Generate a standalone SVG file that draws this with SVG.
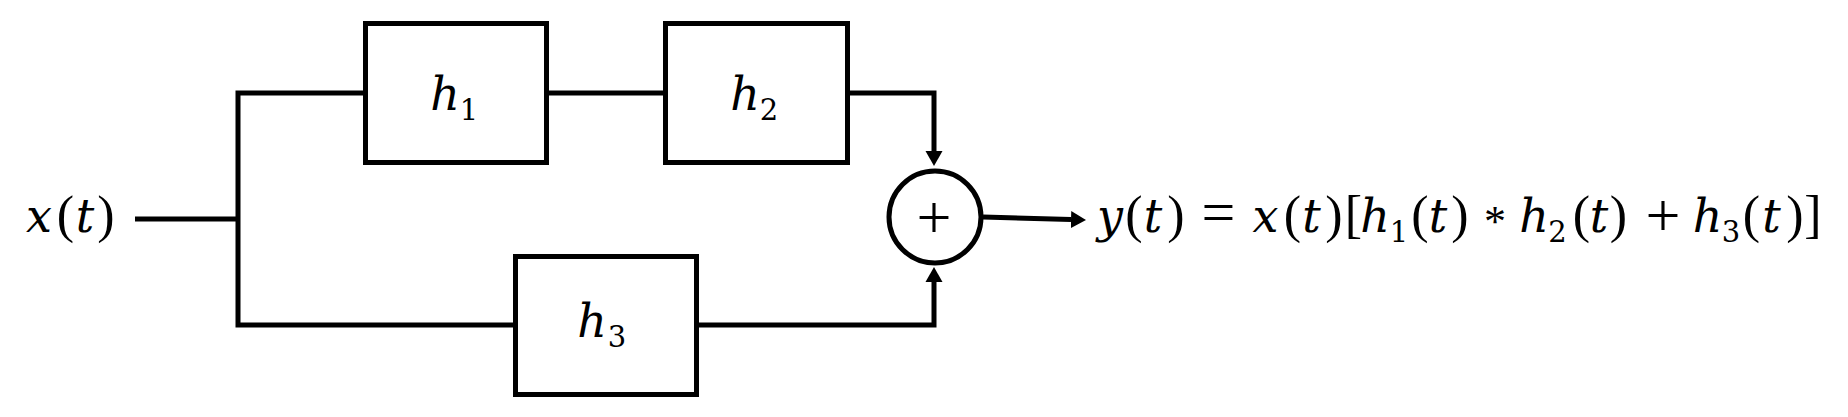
<svg xmlns="http://www.w3.org/2000/svg" width="1848" height="417" viewBox="0 0 1848 417">
<style>
.box{fill:#fff;stroke:#000;stroke-width:5}
.wire{fill:none;stroke:#000;stroke-width:5;stroke-linejoin:miter;stroke-linecap:butt}
.m{font-family:"DejaVu Serif","Liberation Serif",serif;font-size:46px;text-anchor:middle;fill:#000}
.i{font-style:italic}
.s{font-size:29px;font-style:normal}
.p{font-size:52px;font-family:"Liberation Serif",serif}
.op{font-family:"Liberation Serif",serif}
</style>
<defs>
<marker id="arr" markerUnits="userSpaceOnUse" markerWidth="16" markerHeight="20" viewBox="0 -10 16 20" refX="0" refY="0" orient="auto">
<path d="M0,-8.5 L15,0 L0,8.5 Z" fill="#000"/>
</marker>
</defs>
<rect width="1848" height="417" fill="#fff"/>
<g id="connectors">
<path class="wire" d="M135,219 H238"/>
<path class="wire" d="M363,93 H238 V325 H513"/>
<path class="wire" d="M549,93 H663"/>
<path class="wire" d="M850,93 H934 V151" marker-end="url(#arr)"/>
<path class="wire" d="M699,325 H934 V282" marker-end="url(#arr)"/>
<path class="wire" d="M983,217 L1071,219.6" marker-end="url(#arr)"/>
</g>
<g id="node-h1">
<rect class="box" x="365.5" y="23.5" width="181" height="139"/>
<text class="m"><tspan class="i" x="445" y="110">h</tspan><tspan class="s" x="469" y="120">1</tspan></text>
</g>
<g id="node-h2">
<rect class="box" x="665.5" y="23.5" width="182" height="139"/>
<text class="m"><tspan class="i" x="745" y="110">h</tspan><tspan class="s" x="769" y="120">2</tspan></text>
</g>
<g id="node-h3">
<rect class="box" x="515.5" y="256.5" width="181" height="138"/>
<text class="m"><tspan class="i" x="592" y="337">h</tspan><tspan class="s" x="617" y="347">3</tspan></text>
</g>
<g id="node-sum">
<circle cx="935" cy="217" r="46" fill="#fff" stroke="#000" stroke-width="5"/>
<text class="m op" x="934" y="237.5" style="font-size:62px">+</text>
</g>
<g id="label-x">
<text class="m"><tspan class="i" x="39" y="232">x</tspan><tspan class="p" x="65.5" y="232">(</tspan><tspan class="i" x="85" y="232">t</tspan><tspan class="p" x="106" y="232">)</tspan></text>
</g>
<g id="label-y">
<text class="m"><tspan class="i" x="1110" y="232">y</tspan><tspan class="p" x="1134" y="232">(</tspan><tspan class="i" x="1153" y="232">t</tspan><tspan class="p" x="1176" y="232">)</tspan><tspan class="op" x="1218.5" y="232" style="font-size:60px">=</tspan><tspan class="i" x="1265.5" y="232">x</tspan><tspan class="p" x="1292.5" y="232">(</tspan><tspan class="i" x="1311.5" y="232">t</tspan><tspan class="p" x="1334" y="232">)</tspan><tspan class="p" x="1353.5" y="232">[</tspan><tspan class="i" x="1375" y="232">h</tspan><tspan class="s" x="1399" y="242">1</tspan><tspan class="p" x="1420" y="232">(</tspan><tspan class="i" x="1438" y="232">t</tspan><tspan class="p" x="1460" y="232">)</tspan><tspan class="op" x="1495" y="236" style="font-size:44px">*</tspan><tspan class="i" x="1534" y="232">h</tspan><tspan class="s" x="1557.5" y="242">2</tspan><tspan class="p" x="1581.5" y="232">(</tspan><tspan class="i" x="1599" y="232">t</tspan><tspan class="p" x="1618.5" y="232">)</tspan><tspan class="op" x="1663" y="236" style="font-size:62px">+</tspan><tspan class="i" x="1707.5" y="232">h</tspan><tspan class="s" x="1731" y="242">3</tspan><tspan class="p" x="1751.5" y="232">(</tspan><tspan class="i" x="1771.5" y="232">t</tspan><tspan class="p" x="1795" y="232">)</tspan><tspan class="p" x="1813" y="232">]</tspan></text>
</g>
</svg>
